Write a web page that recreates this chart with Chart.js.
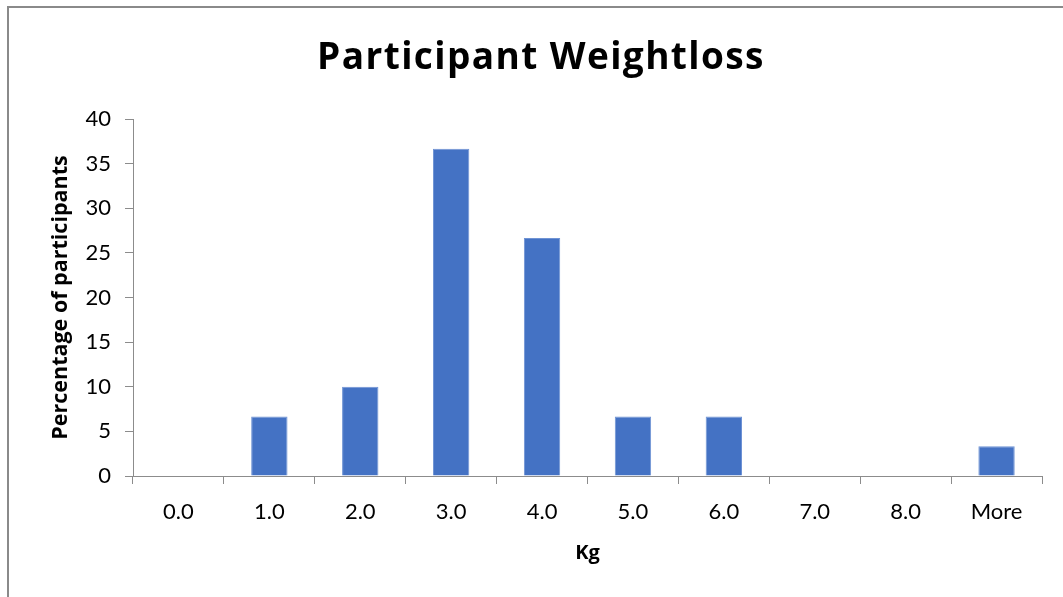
<!DOCTYPE html>
<html>
<head>
<meta charset="utf-8">
<script src="https://cdn.jsdelivr.net/npm/chart.js@4"></script>
<style>
html,body{margin:0;padding:0;background:#fff;}
#wrap{position:absolute;left:0;top:0;width:1063px;height:597px;}
</style>
</head>
<body>
<div id="wrap"><canvas id="c" width="1063" height="597"></canvas></div>
<script>
const categories = ['0.0','1.0','2.0','3.0','4.0','5.0','6.0','7.0','8.0','More'];
const percentages = [0, 6.67, 10, 36.67, 26.67, 6.67, 6.67, 0, 0, 3.33];
const yTicks = [0,5,10,15,20,25,30,35,40];
const titleText = 'Participant Weightloss';
const xTitle = 'Kg';
const yTitle = 'Percentage of participants';

const FONT = 'Lato, "Open Sans", sans-serif';
const TFONT = '"Open Sans", Lato, sans-serif';
const AXIS = '#8c8c8c';

const frame = {
  id: 'frame',
  beforeDraw(chart){
    const ctx = chart.ctx;
    ctx.save();
    ctx.fillStyle = '#fff';
    ctx.fillRect(0,0,chart.width,chart.height);
    ctx.strokeStyle = '#8a8a8a';
    ctx.lineWidth = 2;
    ctx.beginPath();
    ctx.moveTo(8, chart.height + 2);
    ctx.lineTo(8, 7);
    ctx.lineTo(chart.width + 2, 7);
    ctx.stroke();
    ctx.restore();
  },
  afterDraw(chart){
    const ctx = chart.ctx;
    ctx.save();
    ctx.fillStyle = '#000';
    ctx.font = 'bold 37px ' + TFONT;
    if ('letterSpacing' in ctx) ctx.letterSpacing = '1.4px';
    ctx.textAlign = 'center';
    ctx.textBaseline = 'middle';
    ctx.fillText(titleText, 541, 58);
    ctx.restore();
  }
};

new Chart(document.getElementById('c'), {
  type: 'bar',
  data: {
    labels: categories,
    datasets: [{
      data: percentages,
      backgroundColor: '#4472C4',
      borderColor: '#6f93d4',
      borderWidth: 1,
      barPercentage: 0.4,
      categoryPercentage: 1.0
    }]
  },
  options: {
    responsive: false,
    animation: false,
    layout: { padding: { left: 8, right: 21, top: 119, bottom: 0 } },
    plugins: {
      legend: { display: false },
      tooltip: { enabled: false },
      title: { display: false }
    },
    scales: {
      x: {
        grid: { display: true, drawOnChartArea: false, drawTicks: true, tickLength: 8, color: AXIS, offset: true },
        border: { display: true, color: AXIS, width: 1 },
        ticks: { color: '#000', font: { family: FONT, size: 22 }, padding: 15, maxRotation: 0 },
        title: { display: true, text: xTitle, color: '#000', font: { family: TFONT, size: 20, weight: 'bold', lineHeight: 1.2 }, padding: { top: 0, bottom: 32 } },
        afterFit(scale){ scale.height = 597 - 476; }
      },
      y: {
        min: 0, max: 40,
        afterBuildTicks(scale){ scale.ticks = yTicks.map(v => ({ value: v })); },
        grid: { display: true, drawOnChartArea: false, drawTicks: true, tickLength: 8, color: AXIS },
        border: { display: true, color: AXIS, width: 1 },
        ticks: { color: '#000', font: { family: FONT, size: 22 }, padding: 14 },
        title: { display: true, text: yTitle, color: '#000', font: { family: TFONT, size: 21.5, weight: 'bold', lineHeight: 1.2 }, padding: { top: 40, bottom: 0 } },
        afterFit(scale){ scale.width = 133 - 8; }
      }
    }
  },
  plugins: [frame]
});
</script>
</body>
</html>
